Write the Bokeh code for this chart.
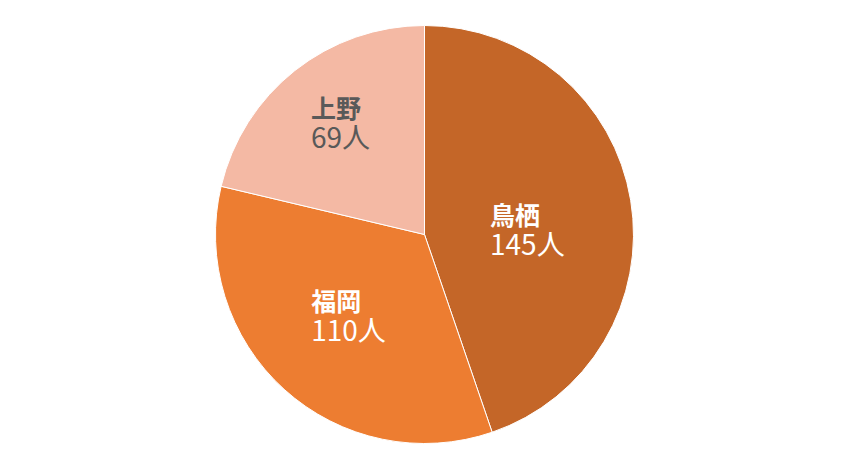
import math
from bokeh.plotting import figure
from bokeh.models import ColumnDataSource, Range1d
from bokeh.core.properties import value
from bokeh.embed import file_html
from bokeh.resources import INLINE

# data
names = ["鳥栖", "福岡", "上野"]
counts = [145, 110, 69]
unit = "人"

# style
colors = ["#C46628", "#ED7D31", "#F4B9A4"]
text_colors = ["#FFFFFF", "#FFFFFF", "#595959"]
label_frac = [0.49, 0.53, 0.675]
label_dang = [-6.5, -1.5, -1.5]   # degrees nudge from slice middle

W, H = 832, 452
cx, cy, R = 424, 218, 209

total = sum(counts)
starts, ends, mids = [], [], []
cum = 0
for v in counts:
    a0 = math.pi / 2 - 2 * math.pi * cum / total
    cum += v
    a1 = math.pi / 2 - 2 * math.pi * cum / total
    starts.append(a0)
    ends.append(a1)
    mids.append((a0 + a1) / 2)

p = figure(width=W, height=H, output_backend="svg", toolbar_location=None,
           x_range=Range1d(0, W), y_range=Range1d(0, H), min_border=0)
p.axis.visible = False
p.grid.visible = False
p.outline_line_color = None
p.background_fill_color = "white"
p.border_fill_color = "white"

src = ColumnDataSource(dict(start=starts, end=ends, color=colors))
p.wedge(x=cx, y=cy, radius=R, start_angle="start", end_angle="end",
        direction="clock", fill_color="color", line_color="white",
        line_width=1, source=src)

lx, ly_name, ly_val, vals = [], [], [], []
for i, v in enumerate(counts):
    r = R * label_frac[i]
    a = mids[i] + math.radians(label_dang[i])
    mx = cx + r * math.cos(a)
    my = cy + r * math.sin(a)
    s = f"{v}{unit}"
    wdt = 15.5 * len(str(v)) + 27
    lx.append(mx - wdt / 2)
    ly_name.append(my + 15)
    ly_val.append(my - 14)
    vals.append(s)

lsrc = ColumnDataSource(dict(x=lx, yn=ly_name, yv=ly_val, name=names,
                             val=vals, tc=text_colors))
p.text(x="x", y="yn", text="name", source=lsrc, text_color="tc",
       text_font=value("Noto Sans CJK JP"), text_font_size="25px",
       text_font_style="bold", text_align="left", text_baseline="middle")
p.text(x="x", y="yv", text="val", source=lsrc, text_color="tc",
       text_font=value("Noto Sans CJK JP"), text_font_size="28px",
       text_align="left", text_baseline="middle")

open("out.html", "w").write(file_html(p, INLINE))
